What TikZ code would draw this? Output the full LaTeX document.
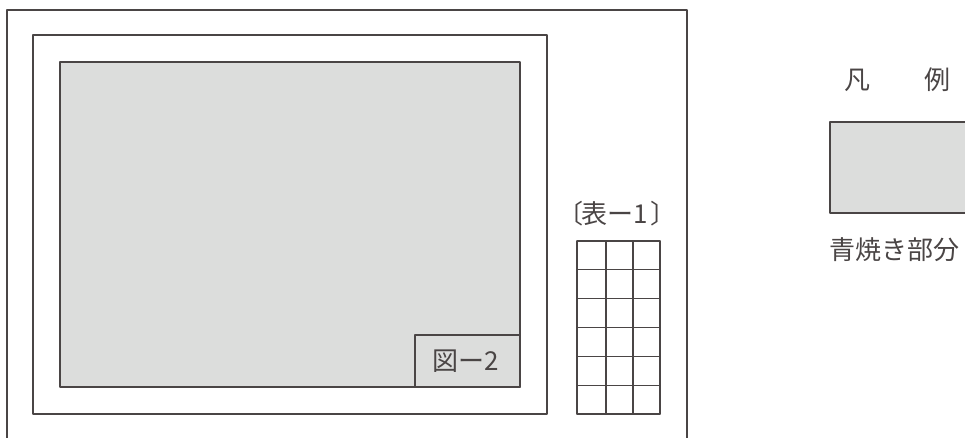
\documentclass[tikz,border=0pt]{standalone}
\usepackage{fontspec}
\newfontfamily\jp{Noto Sans CJK JP}
\definecolor{aoyaki}{HTML}{DCDDDC}
\definecolor{sen}{HTML}{4A4545}
\tikzset{waku/.style={draw=sen,line width=0.8pt},
  moji/.style={text=sen,font=\jp\fontsize{18.5pt}{18.5pt}\selectfont,inner sep=0pt}}
\begin{document}
\begin{tikzpicture}[line cap=round,line join=round,x=0.025cm,y=-0.025cm]
\clip (0,0) rectangle (965,437);
% frames
\draw[waku] (7,10) rectangle (687,470);
\draw[waku] (33,35) rectangle (547,414);
\draw[waku,fill=aoyaki] (60,62) rectangle (520,387);
\draw[waku] (415,335) rectangle (520,387);
\node[moji] (zu2) at (466,361) {図ー2};
% table
\node[moji] (hyo1) at (617,214) {〔\kern-0.1em 表ー1\kern0.1em 〕};
\foreach \c in {577,606,633,660}
  \draw[waku] (\c,241) -- (\c,414);
\foreach \r in {0,...,6}
  \draw[waku] (577,241+28.83*\r) -- (660,241+28.83*\r);
% legend
\node[moji] (han) at (857,80) {凡};
\node[moji] (rei) at (937,80) {例};
\draw[waku,fill=aoyaki] (830,122) rectangle (990,213);
\node[moji,anchor=west] (aoyakibu) at (829,250) {青焼き部分};
\end{tikzpicture}
\end{document}
